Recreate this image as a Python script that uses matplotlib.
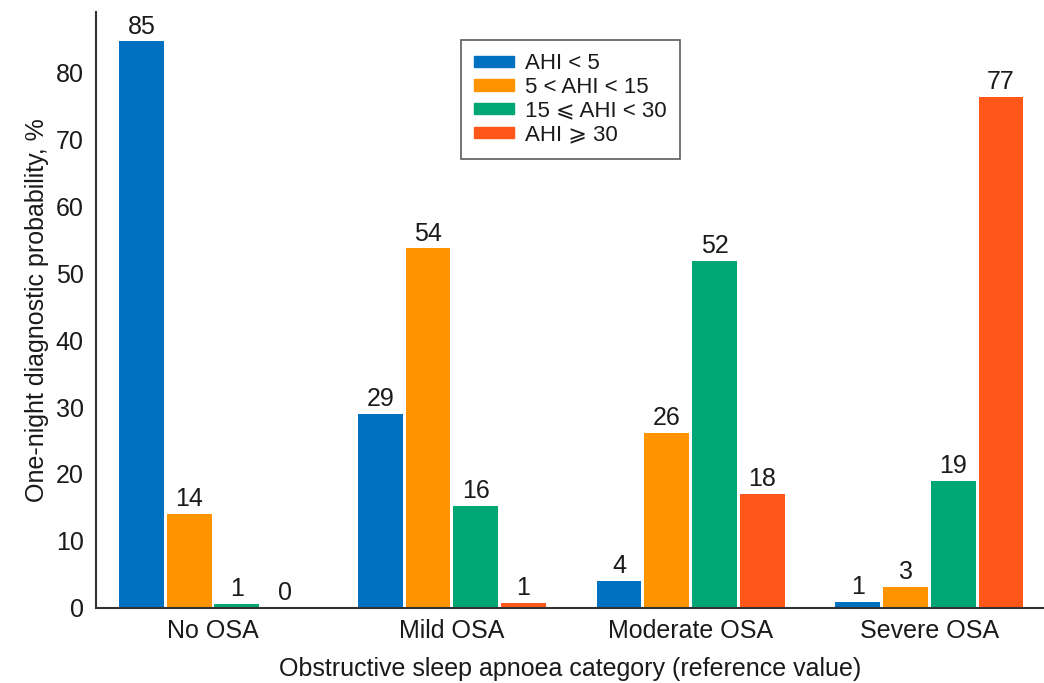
import numpy as np
import matplotlib.pyplot as plt
from matplotlib.patches import Patch

plt.rcParams['font.family'] = ['Liberation Sans', 'DejaVu Sans']

categories = ['No OSA', 'Mild OSA', 'Moderate OSA', 'Severe OSA']
series_names = ['AHI < 5', '5 < AHI < 15', '15 \u2a7d AHI < 30', 'AHI \u2a7e 30']
colors = ['#0070C0', '#FF9400', '#00A775', '#FF5719']

heights = [
    [84.6, 29.0, 4.0, 0.9],
    [14.0, 53.7, 26.1, 3.1],
    [0.6, 15.2, 51.8, 19.0],
    [0.0, 0.75, 17.0, 76.3],
]
labels = [
    [85, 29, 4, 1],
    [14, 54, 26, 3],
    [1, 16, 52, 19],
    [0, 1, 18, 77],
]


def main():
    fig = plt.figure(figsize=(10.44, 6.83), dpi=100)
    ax = fig.add_axes([0.092, 0.11, 0.908, 0.8724])
    x = np.arange(len(categories))
    slot = 0.2
    width = 0.188
    for i, (h, lab, c) in enumerate(zip(heights, labels, colors)):
        pos = x + (i - 1.5) * slot
        ax.bar(pos, h, width=width, color=c, edgecolor='none')
        for px, hv, lv in zip(pos, h, lab):
            ax.annotate(str(lv), (px, hv), xytext=(0, 2), textcoords='offset points',
                        ha='center', va='bottom', fontsize=18, color='#1a1a1a')

    ax.set_xlim(-0.49, 3.48)
    ax.set_ylim(0, 89)
    ax.set_yticks(np.arange(0, 81, 10))
    ax.set_xticks(x)
    ax.set_xticklabels(categories)
    ax.tick_params(length=0, labelsize=18, colors='#1a1a1a')
    ax.tick_params(axis='y', pad=9)
    ax.tick_params(axis='x', pad=8)
    for s in ['top', 'right']:
        ax.spines[s].set_visible(False)
    for s in ['left', 'bottom']:
        ax.spines[s].set_color('#333333')
        ax.spines[s].set_linewidth(1.5)

    ax.set_ylabel('One-night diagnostic probability, %', fontsize=18, color='#1a1a1a', labelpad=5)
    ax.set_xlabel('Obstructive sleep apnoea category (reference value)', fontsize=18,
                  color='#1a1a1a', labelpad=10)

    handles = [Patch(color=c) for c in colors]
    leg = ax.legend(handles, series_names, loc='upper left', bbox_to_anchor=(0.385, 0.953),
                    fontsize=16, frameon=True, fancybox=False, edgecolor='#333333',
                    handlelength=1.8, handleheight=0.4, handletextpad=0.5,
                    labelspacing=0.12, borderpad=0.6, borderaxespad=0)
    leg.get_frame().set_linewidth(1.2)
    for t in leg.get_texts():
        t.set_color('#1a1a1a')


if __name__ == '__main__':
    main()
    plt.savefig('out.png')
